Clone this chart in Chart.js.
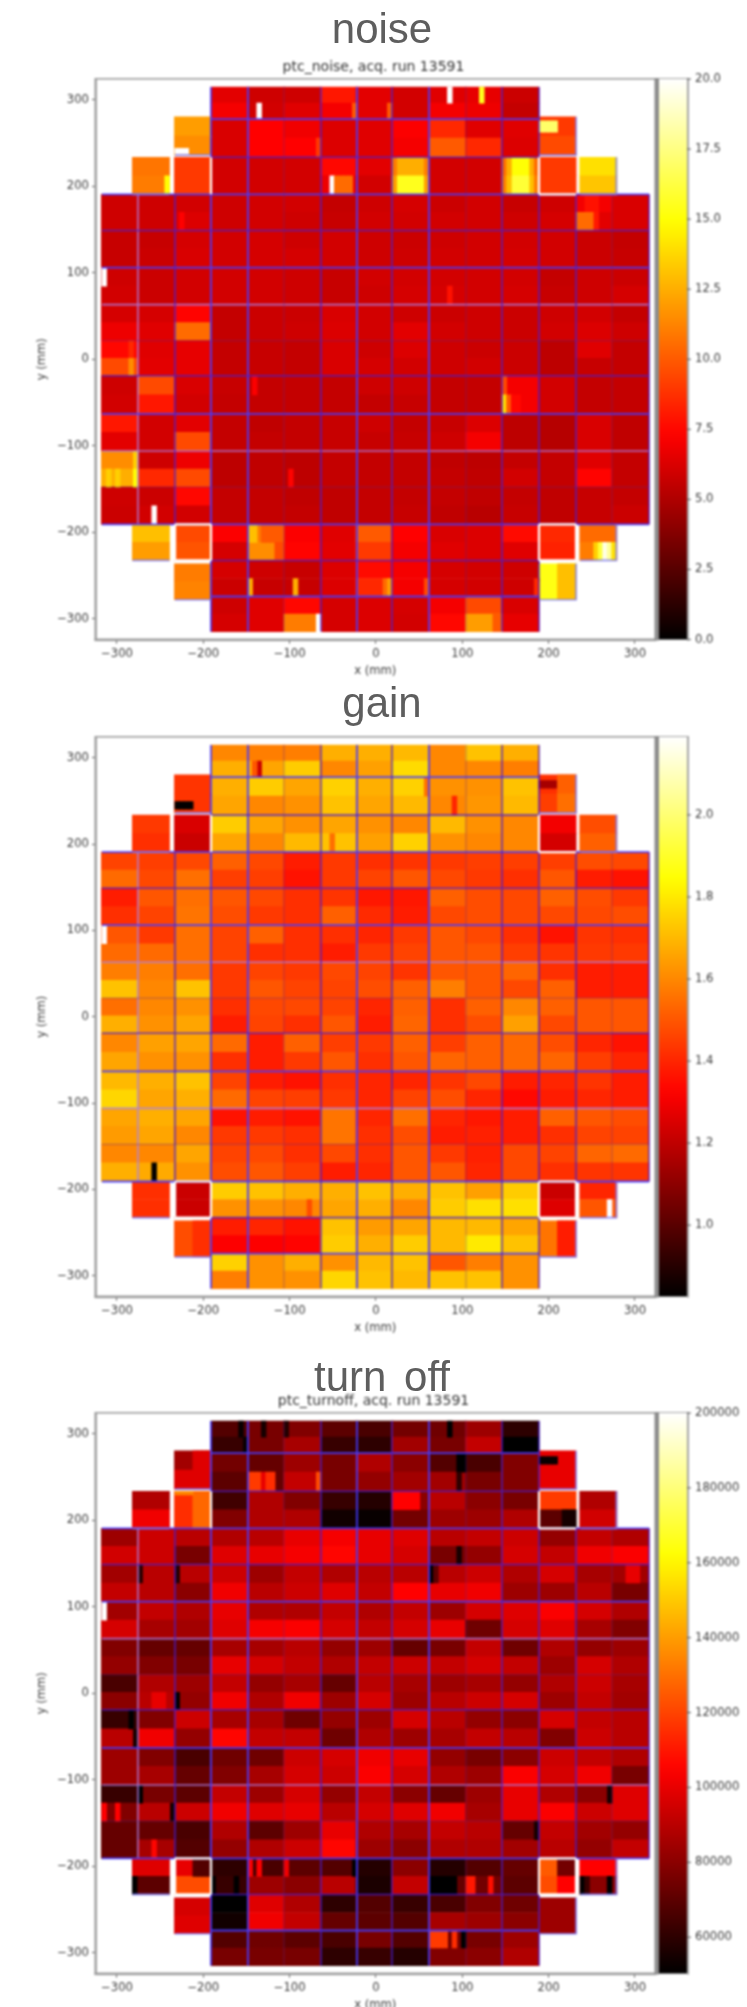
<!DOCTYPE html>
<html>
<head>
<meta charset="utf-8">
<title>ptc maps</title>
<script src="https://cdn.jsdelivr.net/npm/chart.js@4/dist/chart.umd.min.js"></script>
<style>
  html, body { margin: 0; padding: 0; background: #fff; }
  body { position: relative; width: 747px; height: 2007px; overflow: hidden; }
  canvas { position: absolute; left: 0; background: #fff; filter: blur(0.85px); }
  .head { position: absolute; left: 132px; width: 500px; text-align: center; z-index: 2;
          font: 42px/48px "Liberation Sans", sans-serif; color: #5e5e5e; }
</style>
</head>
<body>
<canvas id="noiseChart" width="747" height="687" style="top:0"></canvas>
<canvas id="gainChart" width="747" height="664" style="top:680px"></canvas>
<canvas id="turnoffChart" width="747" height="676" style="top:1345px"></canvas>
<div class="head" style="top:5px">noise</div>
<div class="head" style="top:679px">gain</div>
<div class="head" style="top:1353px;word-spacing:6px">turn off</div>

<script>
const _ = null;

// module edges on the focal plane, mm
const colEdges = [-317.4, -275.7, -232.8, -191.1, -148.3, -106.6, -63.7, -22, 18.5, 61.4, 104.3, 146, 188.8, 231.7, 273.4, 316.3];
const rowEdges = [314.9, 277.8, 233.7, 190.8, 149, 106.1, 63.2, 21.5, -19.1, -63.2, -106.1, -147.9, -190.9, -232.7, -274.4, -315];

const xTicks = [-300, -200, -100, 0, 100, 200, 300];
const yTicks = [300, 200, 100, 0, -100, -200, -300];

const noiseTicks = [0, 2.5, 5, 7.5, 10, 12.5, 15, 17.5, 20];
const gainTicks = [1, 1.2, 1.4, 1.6, 1.8, 2];
const turnoffTicks = [60000, 80000, 100000, 120000, 140000, 160000, 180000, 200000];

const noiseRange = [0, 20];
const gainRange = [0.826, 2.19];
const turnoffRange = [50300, 200000];

// one line per half row of modules (top half, bottom half), 15 columns
const noiseGrid = [
  [_,_,_,6.5,5.9,5.9,8,6.5,6,6.4,6.6,5.8,_,_,_],
  [_,_,_,7,6,6.4,7,6.5,6,7,6.8,5.6,_,_,_],
  [_,_,12,6.2,7.3,6.9,6.3,6.4,7.2,8.5,6.4,6.4,9,_,_],
  [_,_,11.5,6.2,7.3,7.3,6.3,6.4,7,10,8.5,6.3,9.5,_,_],
  [_,10.8,9,6,6,6,7.5,6.5,12.5,6,6,15,9,14,_],
  [_,11,9,6,6,6,6.8,6,15.5,6,6,16,9,13.2,_],
  [5.9,5.9,6,5.9,6,6,5.6,5.9,6.1,5.8,6,5.7,5.9,7,6.2],
  [5.9,5.9,6.3,5.9,6,5.9,5.7,6,6,6,6,5.9,6.1,6.5,6.2],
  [5.7,5.7,6.1,6,6.1,5.9,6,5.9,5.8,5.9,6,6,6,5.8,5.6],
  [5.7,5.8,6.2,6,6.1,6.1,6,5.9,5.9,6,6,6.1,6,5.8,5.7],
  [5.9,5.8,6,6,6,5.9,5.7,6,6,6,6,6,5.6,5.9,5.8],
  [6,5.8,6,6,6,5.9,5.7,5.9,6.1,6.1,6,6.1,5.7,5.9,6.1],
  [6.1,6.1,7.4,5.6,5.8,5.8,6.2,6,5.9,5.8,5.9,5.8,5.9,6,5.6],
  [6.8,6.4,10.5,5.6,5.8,5.9,6.3,6,6.5,6,5.9,5.8,6,6.3,5.9],
  [7.5,6.4,6.6,5.6,5.7,5.6,6.2,5.9,6.3,5.9,5.8,5.8,5.4,6.4,5.6],
  [9.5,6.5,6.6,5.6,5.7,5.6,6.2,6.1,6,5.9,6,5.8,5.4,5.7,5.6],
  [5.9,9.5,6.2,5.7,5.6,5.6,5.6,5.9,5.9,5.6,5.6,7,6,5.6,5.6],
  [6,8,6,5.6,5.6,5.6,5.6,5.6,5.7,5.6,5.6,7,6,5.6,5.6],
  [8,6,6.5,5.6,5.5,5.6,5.7,5.9,5.6,5.7,6.3,5.4,5.2,6.2,5.5],
  [6.5,6,9.5,5.6,5.6,5.6,5.7,5.7,5.7,5.9,7,5.4,5.2,6.2,5.5],
  [11.5,5.9,6.8,5.4,5.5,5.4,5.6,5.6,5.6,5.5,5.4,5.6,5.6,6.4,5.6],
  [12.5,8.5,9.5,5.4,5.5,5.4,5.6,5.6,5.6,5.6,5.5,6,5.6,7.4,5.6],
  [5.9,5.8,7.5,5.6,5.6,5.5,5.5,5.6,5.6,5.6,5.5,5.6,5.5,5.7,5.6],
  [5.8,6,6,5.6,5.6,5.6,5.5,5.6,5.7,5.5,5.3,5.7,5.5,5.7,5.8],
  [_,13,9.5,7.2,11,7.2,6.4,10,7.3,6.2,6.3,7.6,8.5,10.5,_],
  [_,12,9.8,6.1,11.5,7.4,6.5,9,7,6.4,6.3,6.4,8.3,11,_],
  [_,_,11,6.1,5.9,5.7,6.3,7.6,7,6.1,6,5.9,15.3,_,_],
  [_,_,11.2,5.8,5.7,5.7,6.3,8.5,7,6.1,6,5.9,15.3,_,_],
  [_,_,_,5.9,6.4,7.5,6.1,6.3,6.1,7,9.5,6.2,_,_,_],
  [_,_,_,6.1,6.4,11,6.1,6.3,6,7.5,12,6.6,_,_,_]
];

const gainGrid = [
  [_,_,_,1.6,1.58,1.58,1.68,1.68,1.7,1.6,1.72,1.68,_,_,_],
  [_,_,_,1.68,1.66,1.74,1.6,1.65,1.77,1.6,1.6,1.58,_,_,_],
  [_,_,1.43,1.68,1.74,1.66,1.75,1.68,1.75,1.62,1.62,1.72,1.42,_,_],
  [_,_,1.43,1.66,1.6,1.62,1.72,1.66,1.7,1.6,1.63,1.7,1.45,_,_],
  [_,1.44,1.25,1.74,1.66,1.62,1.66,1.62,1.6,1.7,1.62,1.6,1.3,1.48,_],
  [_,1.42,1.22,1.66,1.6,1.7,1.72,1.65,1.75,1.62,1.6,1.6,1.24,1.52,_],
  [1.46,1.45,1.47,1.52,1.47,1.38,1.44,1.42,1.43,1.44,1.45,1.45,1.45,1.48,1.47],
  [1.54,1.47,1.55,1.45,1.45,1.36,1.44,1.46,1.5,1.47,1.44,1.42,1.5,1.38,1.36],
  [1.38,1.5,1.55,1.5,1.47,1.42,1.43,1.37,1.37,1.52,1.48,1.47,1.52,1.48,1.44],
  [1.42,1.46,1.56,1.48,1.44,1.42,1.52,1.41,1.38,1.47,1.48,1.47,1.47,1.47,1.48],
  [1.5,1.44,1.55,1.46,1.52,1.42,1.42,1.4,1.44,1.5,1.47,1.42,1.36,1.43,1.42],
  [1.54,1.54,1.55,1.46,1.42,1.42,1.38,1.44,1.46,1.5,1.5,1.45,1.43,1.44,1.44],
  [1.58,1.58,1.55,1.44,1.46,1.44,1.47,1.46,1.43,1.5,1.5,1.53,1.42,1.38,1.38],
  [1.72,1.6,1.72,1.44,1.5,1.46,1.46,1.48,1.52,1.58,1.5,1.47,1.52,1.38,1.38],
  [1.55,1.6,1.62,1.42,1.47,1.47,1.46,1.4,1.52,1.42,1.52,1.6,1.52,1.5,1.5],
  [1.68,1.62,1.66,1.38,1.46,1.42,1.5,1.38,1.53,1.42,1.48,1.65,1.47,1.5,1.5],
  [1.6,1.65,1.66,1.54,1.38,1.52,1.45,1.44,1.52,1.45,1.52,1.54,1.48,1.4,1.36],
  [1.66,1.62,1.62,1.42,1.38,1.44,1.5,1.42,1.5,1.53,1.52,1.54,1.53,1.45,1.4],
  [1.7,1.68,1.72,1.46,1.38,1.36,1.42,1.4,1.4,1.43,1.47,1.38,1.4,1.43,1.38],
  [1.76,1.66,1.68,1.54,1.46,1.45,1.44,1.4,1.46,1.48,1.4,1.34,1.38,1.4,1.38],
  [1.66,1.68,1.66,1.36,1.38,1.36,1.56,1.4,1.55,1.4,1.37,1.38,1.52,1.5,1.48],
  [1.64,1.66,1.6,1.44,1.44,1.42,1.56,1.42,1.48,1.38,1.39,1.38,1.42,1.46,1.46],
  [1.6,1.6,1.66,1.46,1.47,1.42,1.47,1.42,1.5,1.44,1.39,1.47,1.46,1.53,1.54],
  [1.68,1.67,1.62,1.48,1.5,1.45,1.38,1.4,1.5,1.5,1.4,1.47,1.42,1.43,1.43],
  [_,1.42,1.22,1.74,1.72,1.68,1.68,1.72,1.68,1.72,1.65,1.74,1.22,1.4,_],
  [_,1.42,1.22,1.62,1.62,1.6,1.66,1.68,1.6,1.74,1.78,1.78,1.26,1.5,_],
  [_,_,1.48,1.38,1.4,1.36,1.72,1.64,1.66,1.7,1.7,1.66,1.56,_,_],
  [_,_,1.48,1.32,1.32,1.33,1.74,1.68,1.74,1.7,1.8,1.72,1.56,_,_],
  [_,_,_,1.75,1.62,1.68,1.62,1.7,1.72,1.5,1.58,1.62,_,_,_],
  [_,_,_,1.58,1.62,1.62,1.76,1.72,1.7,1.72,1.72,1.62,_,_,_]
];

// thousands of electrons
const turnoffGrid = [
  [_,_,_,68,76,78,70,66,75,74,84,60,_,_,_],
  [_,_,_,62,76,86,62,60,85,76,92,50,_,_,_],
  [_,_,85,75,72,84,76,88,80,68,66,78,100,_,_],
  [_,_,98,70,72,92,76,82,85,85,76,78,100,_,_],
  [_,88,115,64,88,78,62,58,80,90,80,76,118,88,_],
  [_,102,115,78,88,88,54,52,75,84,84,88,70,95,_],
  [84,94,90,88,90,100,103,100,98,90,92,94,82,92,88],
  [95,94,76,98,100,103,106,100,96,76,82,96,92,102,104],
  [85,90,90,94,84,92,88,90,90,90,94,88,96,86,85],
  [92,90,80,102,90,94,98,92,105,100,102,84,84,90,76],
  [85,92,88,100,88,88,92,88,92,84,96,98,104,96,88],
  [96,86,85,98,103,104,96,92,96,100,74,96,98,86,78],
  [78,72,72,86,86,90,82,84,72,76,92,74,88,82,84],
  [82,78,76,100,96,92,88,92,94,92,96,92,84,96,88],
  [66,88,84,92,82,86,72,90,86,84,86,82,88,94,86],
  [80,90,82,102,88,102,84,96,84,90,94,96,84,92,85],
  [62,78,94,86,86,74,82,84,96,90,82,80,96,92,90],
  [90,102,82,106,92,92,74,88,84,86,92,90,78,94,90],
  [84,78,66,74,74,94,96,102,100,82,76,80,94,92,88],
  [84,86,72,78,86,96,94,104,96,88,84,104,96,102,76],
  [62,76,70,92,84,96,82,92,80,72,84,100,88,80,98],
  [78,90,94,102,98,100,90,96,98,102,86,100,104,94,98],
  [72,72,66,88,70,84,100,88,86,92,90,72,92,85,82],
  [72,86,68,82,88,94,106,84,80,88,88,85,90,82,92],
  [_,98,100,60,66,70,68,58,80,58,68,72,125,105,_],
  [_,70,122,62,84,80,90,56,92,72,75,70,122,80,_],
  [_,_,96,50,98,88,60,68,62,66,78,74,84,_,_],
  [_,_,98,54,102,92,72,70,68,86,84,80,84,_,_],
  [_,_,_,68,74,70,66,76,68,75,76,84,_,_,_],
  [_,_,_,76,76,76,60,62,58,78,80,88,_,_,_]
];

// single channels that stand out: row, half, col, first stripe, stripe count, value, [part of half]
const noiseSpots = [
  [0,1,4,2,1,20],[0,1,6,7,1,10],[0,1,7,7,1,10],[0,0,9,4,1,20],[0,0,10,3,1,15.5],
  [1,1,2,0,3,20,0.65,0.95],[1,0,12,0,4,17,0.2,0.8],[1,1,5,7,1,9],
  [2,1,1,7,1,15],[2,1,6,2,1,20],[2,1,6,3,4,10.5],
  [2,0,8,0,1,11],[2,0,8,7,1,11],[2,1,8,0,1,12],[2,1,8,7,1,12],
  [2,0,11,0,1,10.5],[2,0,11,1,1,12.5],[2,0,11,6,1,12.5],[2,0,11,7,1,10.5],
  [2,1,11,0,1,11],[2,1,11,1,1,13],[2,1,11,6,1,13],[2,1,11,7,1,11],
  [3,1,2,1,1,7.3],[3,0,13,2,3,7.8],[3,1,13,0,4,10.5],[3,1,13,4,1,8],
  [5,0,0,0,1,20],[5,1,9,4,1,7.8],
  [7,0,0,6,1,8.5],[7,1,0,6,1,11.5],
  [8,0,4,1,1,7.2],[8,0,11,0,1,9.5],[8,1,11,0,1,14],[8,1,11,1,1,10],[8,1,11,2,2,7.5],
  [10,0,0,7,1,13.5],[10,1,0,7,1,15],[10,1,0,1,1,13.5],[10,1,0,3,1,13.5],[10,1,5,1,1,7.4],
  [11,1,1,3,1,20],
  [12,0,4,0,2,13],[12,0,4,3,5,10],[12,1,4,6,2,9.5],
  [12,1,13,3,1,13.5],[12,1,13,4,1,16],[12,1,13,5,1,19.5],[12,1,13,6,1,18],[12,1,13,7,1,14],
  [13,1,4,0,1,12.5],[13,1,5,2,1,12.5],[13,1,7,6,1,10.5],[13,1,7,7,1,12],[13,1,8,7,1,9.5],[13,1,11,7,1,8.5],
  [13,0,12,4,4,13],[13,1,12,4,4,13],
  [14,1,5,7,1,20],[14,1,10,6,2,10]
];

const gainSpots = [
  [0,1,4,2,1,1.22],[0,1,4,1,1,1.5],[1,1,2,0,4,0.83,0.4,0.8],[1,0,8,7,1,1.55],[1,1,9,5,1,1.4],
  [1,0,12,0,4,1.15,0.3,0.7],[1,0,12,4,4,1.52],[1,1,12,4,4,1.55],[2,1,6,2,1,1.55],
  [5,0,0,0,1,2.19],[11,1,1,3,1,0.83],[12,1,5,5,1,1.48],[12,1,13,6,1,2.19],
  [13,0,2,4,4,1.42],[13,1,2,4,4,1.42],[13,0,12,4,4,1.38],[13,1,12,4,4,1.38]
];

const turnoffSpots = [
  [0,0,3,6,1,52],[0,1,3,7,1,52],[0,0,4,3,1,55],[0,0,5,0,1,58],[0,0,9,4,1,50],
  [1,1,4,0,3,118],[1,1,4,3,1,100],[1,1,4,4,2,115],[1,1,5,7,1,122],[1,0,9,6,2,50],[1,1,9,6,1,60],
  [1,0,12,0,4,52,0.3,0.7],[1,0,2,4,4,98],
  [2,0,2,4,4,128],[2,1,2,4,4,128],[2,0,2,0,4,135,0,0.2],[2,0,8,0,6,105],[2,1,12,5,3,55],
  [3,1,9,6,1,55],[4,0,1,0,1,60],[4,0,2,0,1,58],[4,0,9,0,1,50],[4,0,9,1,1,70],[4,0,14,3,3,100],
  [5,0,0,0,1,200],[7,1,2,0,1,50],[7,1,1,3,3,100],[8,0,0,6,1,50],[8,1,0,7,1,55],
  [10,0,1,0,1,50],[10,1,0,0,1,105],[10,1,0,3,1,105],[10,1,1,7,1,55],[10,0,13,7,1,55],
  [11,1,1,3,1,106],[11,0,11,7,1,55],
  [12,0,2,4,4,68],[12,1,1,0,1,50],[12,1,3,0,1,50],[12,1,3,5,1,50],[12,0,4,0,1,105],[12,0,4,2,1,105],
  [12,0,5,0,1,102],[12,0,6,7,1,50],[12,1,9,0,6,50],[12,1,10,0,2,110],[12,1,10,5,1,108],
  [12,0,12,4,4,75],[12,1,12,4,4,105],[12,1,13,0,1,50],[12,1,13,1,1,62],[12,1,13,6,1,50],
  [14,0,9,0,4,118],[14,0,9,5,1,115],[14,0,9,7,1,50]
];

// matplotlib "hot" colormap
function hot(t) {
  t = Math.min(1, Math.max(0, t));
  const r = Math.min(1, t / 0.365);
  const g = Math.min(1, Math.max(0, (t - 0.365) / 0.381));
  const b = Math.max(0, (t - 0.746) / 0.254);
  return `rgb(${Math.round(r * 255)},${Math.round(g * 255)},${Math.round(b * 255)})`;
}

// the outlying modules do not sit quite on the grid
function cornerDx(row, col) {
  if (row !== 2 && row !== 12) return 0;
  return col === 1 ? -6.4 : col === 13 ? 5 : 0;
}
function cornerDy(row, col) {
  if (col > 2 && col < 12) return 0;
  return row === 1 ? 2.5 : row === 13 ? -3.8 : 0;
}

function halfRange(row, half, col, f0 = 0, f1 = 1) {
  const dy = cornerDy(row, col);
  const top = rowEdges[row] + dy;
  const step = (rowEdges[row + 1] - rowEdges[row]) / 2;
  const start = top + step * half;
  return [start + step * f1, start + step * f0];
}

function moduleBars(grid, unit) {
  const bars = [];
  grid.forEach((line, i) => {
    const row = Math.floor(i / 2), half = i % 2;
    line.forEach((v, col) => {
      if (v === null) return;
      bars.push({
        x: (colEdges[col] + colEdges[col + 1]) / 2 + cornerDx(row, col),
        y: halfRange(row, half, col),
        v: v * unit
      });
    });
  });
  return bars;
}

function spotBars(spots, unit) {
  const bars = [];
  spots.forEach(([row, half, col, first, count, v, f0, f1]) => {
    const w = (colEdges[col + 1] - colEdges[col]) / 8;
    for (let k = 0; k < count; k++) {
      bars.push({
        x: colEdges[col] + cornerDx(row, col) + (first + k + 0.5) * w,
        y: halfRange(row, half, col, f0, f1),
        v: v * unit
      });
    }
  });
  return bars;
}

// boundary lines between modules, strength varies with how the 1px line got resampled
const lineStyles = {
  faint: { color: 'rgba(90,40,150,0.35)', width: 1.2 },
  mid: { color: 'rgba(70,30,210,0.8)', width: 1.6 },
  strong: { color: 'rgba(70,60,255,0.95)', width: 1.8 },
  pale: { color: 'rgba(170,130,235,0.85)', width: 1.6 }
};
const rowLineKinds = [_, 'strong', 'mid', 'strong', 'mid', 'strong', 'pale', 'faint', 'mid', 'strong', 'pale', 'faint', 'strong', 'mid', 'strong', _];
const colLineKinds = [_, 'pale', 'mid', 'strong', 'strong', 'faint', 'mid', 'strong', 'mid', 'strong', 'faint', 'mid', 'mid', 'mid', 'faint', 'mid'];

// modules with a white gap, and which of their sides show it
const whiteFramed = [[2, 2, 'r'], [2, 12, 'lb'], [12, 2, 'lrtb'], [12, 12, 'lrtb']];
const lavenderEdged = [[1, 2], [1, 12], [2, 1], [2, 13], [12, 1], [12, 13], [13, 2], [13, 12]];

function gridLineDatasets() {
  const byKind = {};
  Object.keys(lineStyles).forEach(k => { byKind[k] = []; });
  rowLineKinds.forEach((kind, j) => {
    if (!kind) return;
    const wide = j >= 3 && j <= 12;
    byKind[kind].push({ x: colEdges[wide ? 0 : 3], y: rowEdges[j] }, { x: colEdges[wide ? 15 : 12], y: rowEdges[j] }, { x: 0, y: null });
  });
  colLineKinds.forEach((kind, i) => {
    if (!kind) return;
    const tall = i >= 3 && i <= 12;
    byKind[kind].push({ x: colEdges[i], y: rowEdges[tall ? 0 : 3] }, { x: colEdges[i], y: rowEdges[tall ? 15 : 12] }, { x: 0, y: null });
  });
  const sets = Object.keys(byKind).map(k => lineSet(byKind[k], lineStyles[k].color, lineStyles[k].width, 1));

  const lav = [];
  lavenderEdged.forEach(([row, col]) => {
    const xl = colEdges[col] + cornerDx(row, col), xr = colEdges[col + 1] + cornerDx(row, col);
    const yb = rowEdges[row + 1] + cornerDy(row, col), yt = rowEdges[row] + cornerDy(row, col);
    lav.push({ x: xl, y: yb }, { x: xr, y: yb });
    if (col > 7) lav.push({ x: xr, y: yt });
    lav.push({ x: 0, y: null });
  });
  sets.push(lineSet(lav, 'rgba(125,125,250,0.85)', 1.7, 0.5));

  const white = [];
  whiteFramed.forEach(([row, col, sides]) => {
    const xl = colEdges[col], xr = colEdges[col + 1], yt = rowEdges[row], yb = rowEdges[row + 1];
    if (sides.includes('l')) white.push({ x: xl, y: yt }, { x: xl, y: yb }, { x: 0, y: null });
    if (sides.includes('r')) white.push({ x: xr, y: yt }, { x: xr, y: yb }, { x: 0, y: null });
    if (sides.includes('t')) white.push({ x: xl, y: yt }, { x: xr, y: yt }, { x: 0, y: null });
    if (sides.includes('b')) white.push({ x: xl, y: yb }, { x: xr, y: yb }, { x: 0, y: null });
  });
  sets.push(lineSet(white, '#fff', 2.2, 0));
  return sets;
}

function lineSet(points, color, width, order) {
  return {
    type: 'line', data: points, borderColor: color, borderWidth: width,
    pointRadius: 0, spanGaps: false, tension: 0, fill: false, order: order
  };
}

// axes frame and colour bar, placed on the colour-bar scale
const frameAndBar = {
  id: 'frameAndBar',
  afterDraw(chart, args, opts) {
    const c = chart.ctx, a = chart.chartArea, cb = chart.scales.cb;
    c.save();
    c.fillStyle = '#9c9c9c';
    c.fillRect(a.left - 1, a.top - 1, a.right - a.left + 2, 1.6);
    c.fillRect(a.left - 1.5, a.top - 1, 2.4, a.bottom - a.top + 2);
    c.fillRect(a.left - 1.5, a.bottom - 1, a.right - a.left + 3, 2.6);

    const x0 = a.right + 4.5, x1 = a.right + 32.5;
    const top = cb.getPixelForValue(cb.max), bottom = cb.getPixelForValue(cb.min);
    const grad = c.createLinearGradient(0, bottom, 0, top);
    for (let i = 0; i <= 40; i++) grad.addColorStop(i / 40, hot(i / 40));
    c.fillStyle = grad;
    c.fillRect(x0, top, x1 - x0, bottom - top);

    c.fillStyle = '#8c8c8c';
    c.fillRect(a.right, a.top - 1, 4.5, a.bottom - a.top + 2);
    c.fillStyle = '#a4a4a4';
    c.fillRect(x1, top - 1, 2, bottom - top + 2);
    c.fillRect(x0, top - 1, x1 - x0, 1);

    c.fillStyle = '#555';
    cb.ticks.forEach(t => {
      c.fillRect(x1, cb.getPixelForValue(t.value) - 0.5, 4, 1);
    });
    c.restore();
  }
};

function tickText(v) {
  return String(v).replace('-', '\u2212');
}

function makeChart(id, opts) {
  const [vmin, vmax] = opts.range;
  const colorOf = ctx => hot((ctx.raw.v - vmin) / (vmax - vmin));
  const font = { family: '"DejaVu Sans", sans-serif', size: 11.6 };
  const tickColor = '#3a3a3a';
  const datasets = [
    { data: moduleBars(opts.grid, opts.unit), backgroundColor: colorOf, barThickness: 37.2, grouped: false, order: 4 },
    { data: spotBars(opts.spots, opts.unit), backgroundColor: colorOf, barThickness: 4.8, grouped: false, order: 3 }
  ].concat(gridLineDatasets());

  return new Chart(document.getElementById(id), {
    type: 'bar',
    data: { datasets: datasets },
    options: {
      responsive: false,
      animation: false,
      events: [],
      layout: { autoPadding: false, padding: { top: opts.areaTop - (opts.subtitle ? 19.8 : 0), left: 0, right: 0, bottom: 0 } },
      plugins: {
        legend: { display: false },
        tooltip: { enabled: false },
        title: {
          display: !!opts.subtitle,
          text: opts.subtitle || '',
          color: '#333',
          font: { family: font.family, size: 14, weight: 'normal', lineHeight: 1.2 },
          padding: { top: 0, bottom: 3 }
        }
      },
      scales: {
        x: {
          type: 'linear', offset: false, min: -324.3, max: 322.6,
          afterBuildTicks: s => { s.ticks = xTicks.map(v => ({ value: v })); },
          afterFit: s => { s.height = 38; },
          grid: { offset: false, drawOnChartArea: false, tickLength: 4, tickColor: '#555' },
          border: { display: false },
          ticks: { font: font, color: tickColor, padding: 3, maxRotation: 0, autoSkip: false, callback: tickText },
          title: { display: true, text: 'x (mm)', font: font, color: tickColor, padding: { top: 0, bottom: 0 } }
        },
        y: {
          type: 'linear', min: -324.2, max: 324.2,
          afterBuildTicks: s => { s.ticks = yTicks.map(v => ({ value: v })); },
          afterFit: s => { s.width = 96; },
          grid: { drawOnChartArea: false, tickLength: 4, tickColor: '#555' },
          border: { display: false },
          ticks: { font: font, color: tickColor, padding: 3, autoSkip: false, callback: tickText },
          title: { display: true, text: 'y (mm)', font: font, color: tickColor, padding: { top: 35, bottom: 0 } }
        },
        cb: {
          type: 'linear', position: 'right', min: vmin, max: vmax,
          afterBuildTicks: s => { s.ticks = opts.ticks.map(v => ({ value: v })); },
          afterFit: s => { s.width = 92.5; },
          grid: { display: false, drawTicks: false },
          border: { display: false },
          ticks: { font: font, color: tickColor, padding: 40.5, autoSkip: false, callback: v => v.toFixed(opts.decimals) }
        }
      }
    },
    plugins: [frameAndBar]
  });
}

makeChart('noiseChart', {
  grid: noiseGrid, spots: noiseSpots, unit: 1, range: noiseRange, ticks: noiseTicks, decimals: 1,
  areaTop: 79, subtitle: 'ptc_noise, acq. run 13591'
});
makeChart('gainChart', {
  grid: gainGrid, spots: gainSpots, unit: 1, range: gainRange, ticks: gainTicks, decimals: 1,
  areaTop: 57
});
makeChart('turnoffChart', {
  grid: turnoffGrid, spots: turnoffSpots, unit: 1000, range: turnoffRange, ticks: turnoffTicks, decimals: 0,
  areaTop: 68, subtitle: 'ptc_turnoff, acq. run 13591'
});
</script>
</body>
</html>
